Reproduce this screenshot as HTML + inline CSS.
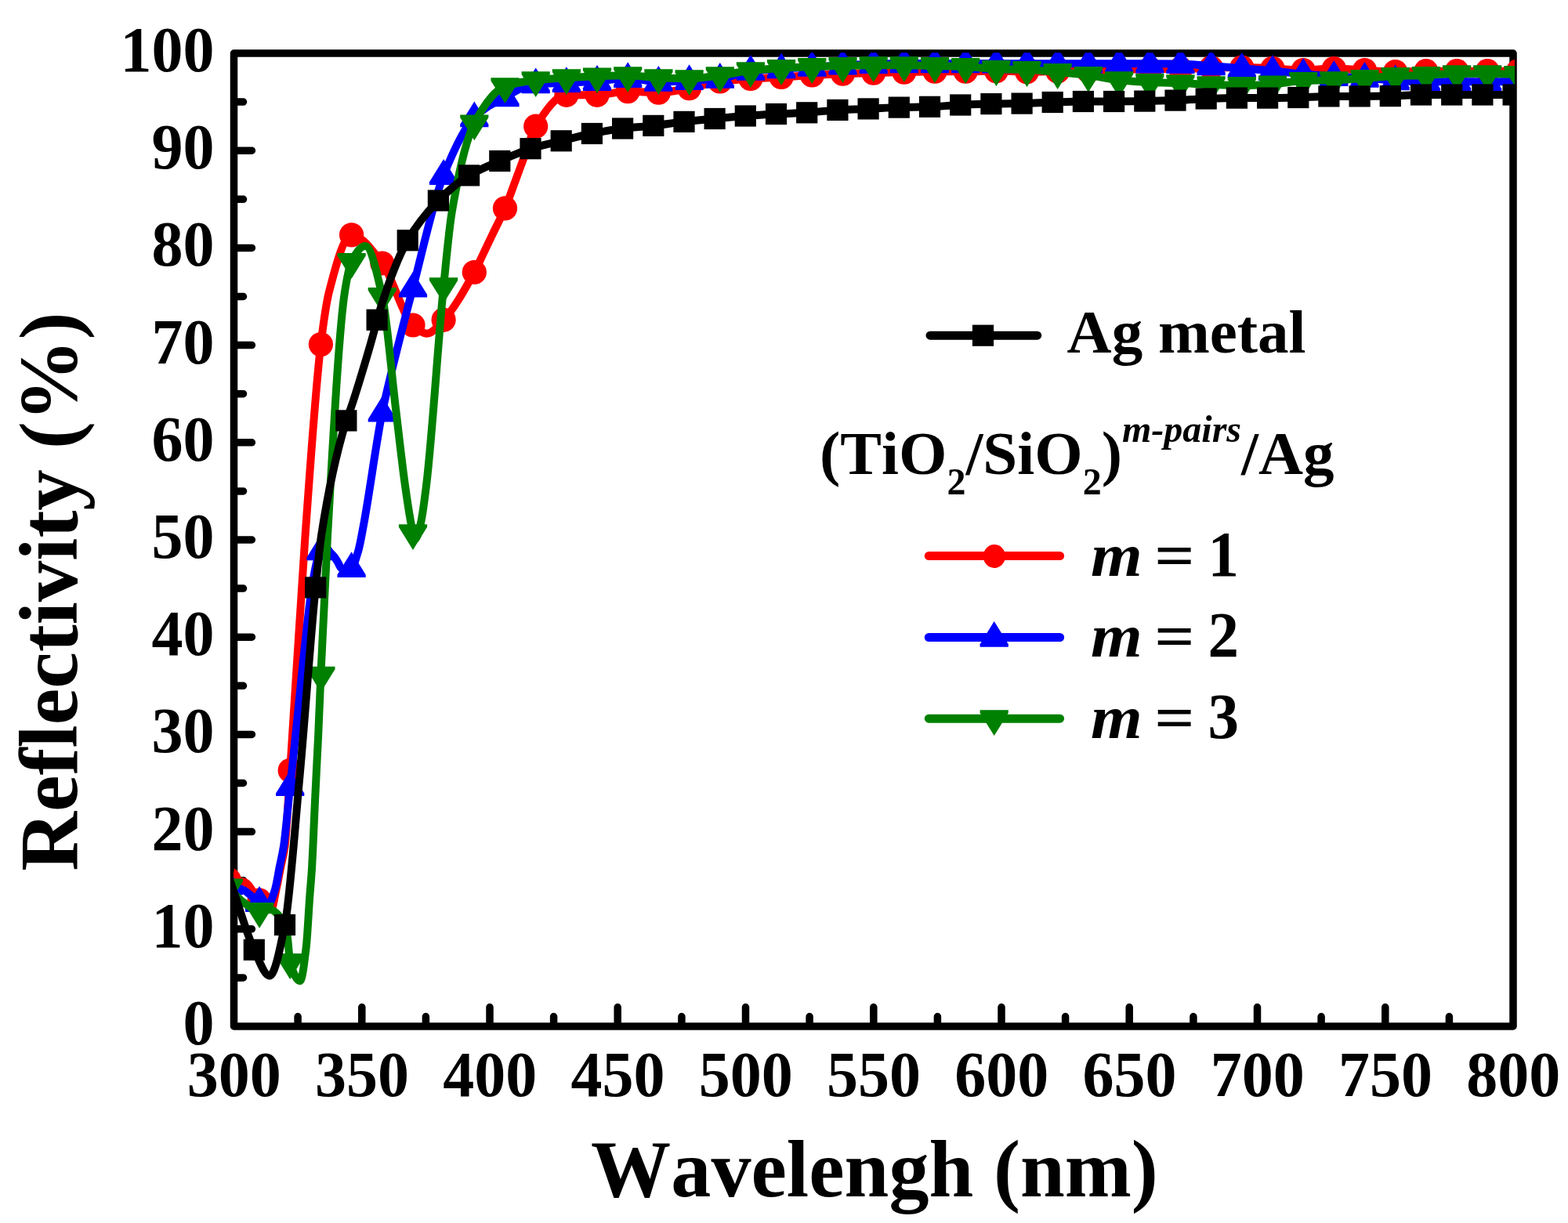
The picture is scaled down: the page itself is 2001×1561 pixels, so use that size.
<!DOCTYPE html>
<html lang="en"><head><meta charset="utf-8"><title>Reflectivity vs Wavelength</title>
<style>
html,body{margin:0;padding:0;background:#fff}
body{width:2001px;height:1561px;overflow:hidden}
svg{display:block}
text{font-family:"Liberation Serif","DejaVu Serif",serif;font-weight:bold;fill:#000;font-kerning:none}
.tk{font-size:80px}
.lg{font-size:79px}
.tt{font-size:102.2px}
.ty{font-size:104.9px}
.it{font-style:italic}
</style></head>
<body>
<svg width="2001" height="1561" viewBox="0 0 2001 1561">
<rect width="2001" height="1561" fill="#fff"/>
<defs><clipPath id="plotclip"><rect x="298" y="67.2" width="1635" height="1246"/></clipPath></defs>
<g id="axes" fill="none" stroke="#000" stroke-width="9.5" stroke-linejoin="round" stroke-linecap="round">
<rect x="298.5" y="68" width="1632.5" height="1242"/>
<path d="M299.5 1247.9H310.5M299.5 1185.8H321.4M299.5 1123.7H310.5M299.5 1061.6H321.4M299.5 999.5H310.5M299.5 937.4H321.4M299.5 875.3H310.5M299.5 813.2H321.4M299.5 751.1H310.5M299.5 689H321.4M299.5 626.9H310.5M299.5 564.8H321.4M299.5 502.7H310.5M299.5 440.6H321.4M299.5 378.5H310.5M299.5 316.4H321.4M299.5 254.3H310.5M299.5 192.2H321.4M299.5 130.1H310.5M380.1 1309V1297.6M461.8 1309V1285.6M543.4 1309V1297.6M625 1309V1285.6M706.6 1309V1297.6M788.2 1309V1285.6M869.9 1309V1297.6M951.5 1309V1285.6M1033.1 1309V1297.6M1114.8 1309V1285.6M1196.4 1309V1297.6M1278 1309V1285.6M1359.6 1309V1297.6M1441.2 1309V1285.6M1522.9 1309V1297.6M1604.5 1309V1285.6M1686.1 1309V1297.6M1767.8 1309V1285.6M1849.4 1309V1297.6"/>
</g>
<g id="data" clip-path="url(#plotclip)">
<g id="red" fill="#ff0000" stroke="none">
<path d="M291.9 1122.5C298.6 1122.5 305.3 1123.8 312 1125.7C318.4 1127.5 324.7 1143.1 331.1 1149.2C336 1153.9 341 1161 346 1161C348.2 1161 350.4 1144.6 352.6 1134.9C354.5 1126.3 356.5 1115.4 358.4 1105.7C360.1 1097.2 361.8 1092.6 363.5 1080.2C365.7 1064 368 1016.7 370.2 983.4C376.7 888 383.1 772.2 389.5 684C396.1 593 402.8 493.5 409.4 439.6C412.9 411 416.5 386 420 372.3C429.5 335.3 439.1 299.9 448.6 299.9C461.7 299.9 474.7 319.5 487.8 336C500.8 352.6 513.9 403.8 527 415C533 420.2 539 425.7 545 425.7C552 425.7 559.1 415.7 566.1 408.3C579.2 394.7 592.2 371.2 605.3 347.5C609.7 339.5 614.1 329.3 618.5 320.1C622.7 311.5 626.8 302.7 631 294C635.5 284.7 640 276.4 644.5 265.9C649 255.3 653.5 242 658 230C662.3 218.3 666.7 206.3 671 194.7C675.2 183.4 679.4 167.9 683.7 161.2C696.7 140.4 709.8 121.3 722.9 121.3C735.9 121.3 749 121.3 762 121.3C775.1 121.3 788.1 116.6 801.2 116.6C814.3 116.6 827.3 118.2 840.4 118.2C853.4 118.2 866.5 114.8 879.6 112.6C892.6 110.3 905.7 105.7 918.8 104C931.8 102.4 944.9 101.4 957.9 100.5C971 99.7 984 99.2 997.1 98.4C1010.2 97.7 1023.2 96.6 1036.3 95.9C1049.3 95.3 1062.4 94.7 1075.5 94.2C1088.5 93.8 1101.6 93.4 1114.7 93.1C1127.7 92.7 1140.8 92.4 1153.8 92.1C1166.9 91.8 1180 91.2 1193 91.2C1206.1 91.2 1219.1 91.2 1232.2 91.2C1245.2 91.2 1258.3 90.6 1271.4 90.6C1284.4 90.6 1297.5 91.6 1310.5 91.6C1323.6 91.6 1336.7 91.2 1349.7 91C1362.8 90.8 1375.8 90.6 1388.9 90.4C1402 90.1 1415 89.5 1428.1 89.1C1441.1 88.7 1454.2 87.9 1467.3 87.9C1480.3 87.9 1493.4 87.9 1506.5 87.9C1519.5 87.9 1532.6 86.9 1545.6 86.6C1558.7 86.4 1571.8 86 1584.8 86C1597.9 86 1610.9 86.7 1624 87.3C1637 87.8 1650.1 89.6 1663.2 89.6C1676.2 89.6 1689.3 87.5 1702.3 87.5C1715.4 87.5 1728.5 88.9 1741.5 89.6C1754.6 90.3 1767.7 91.6 1780.7 91.6C1793.8 91.6 1806.8 90.7 1819.9 90.7C1832.9 90.7 1846 90.7 1859.1 90.7C1872.1 90.7 1885.2 90.7 1898.2 90.7C1911.3 90.7 1924.4 90.7 1937.4 90.7" fill="none" stroke="#ff0000" stroke-width="10" stroke-linejoin="round" stroke-linecap="round"/>
<circle cx="291.9" cy="1122.5" r="15.6"/><circle cx="331.1" cy="1149.2" r="15.6"/><circle cx="370.2" cy="983.4" r="15.6"/><circle cx="409.4" cy="439.6" r="15.6"/><circle cx="448.6" cy="299.9" r="15.6"/><circle cx="487.8" cy="336" r="15.6"/><circle cx="527" cy="415" r="15.6"/><circle cx="566.1" cy="408.3" r="15.6"/><circle cx="605.3" cy="347.5" r="15.6"/><circle cx="644.5" cy="265.9" r="15.6"/><circle cx="683.7" cy="161.2" r="15.6"/><circle cx="722.9" cy="121.3" r="15.6"/><circle cx="762" cy="121.3" r="15.6"/><circle cx="801.2" cy="116.6" r="15.6"/><circle cx="840.4" cy="118.2" r="15.6"/><circle cx="879.6" cy="112.6" r="15.6"/><circle cx="918.8" cy="104" r="15.6"/><circle cx="957.9" cy="100.5" r="15.6"/><circle cx="997.1" cy="98.4" r="15.6"/><circle cx="1036.3" cy="95.9" r="15.6"/><circle cx="1075.5" cy="94.2" r="15.6"/><circle cx="1114.7" cy="93.1" r="15.6"/><circle cx="1153.8" cy="92.1" r="15.6"/><circle cx="1193" cy="91.2" r="15.6"/><circle cx="1232.2" cy="91.2" r="15.6"/><circle cx="1271.4" cy="90.6" r="15.6"/><circle cx="1310.5" cy="91.6" r="15.6"/><circle cx="1349.7" cy="91" r="15.6"/><circle cx="1388.9" cy="90.4" r="15.6"/><circle cx="1428.1" cy="89.1" r="15.6"/><circle cx="1467.3" cy="87.9" r="15.6"/><circle cx="1506.5" cy="87.9" r="15.6"/><circle cx="1545.6" cy="86.6" r="15.6"/><circle cx="1584.8" cy="86" r="15.6"/><circle cx="1624" cy="87.3" r="15.6"/><circle cx="1663.2" cy="89.6" r="15.6"/><circle cx="1702.3" cy="87.5" r="15.6"/><circle cx="1741.5" cy="89.6" r="15.6"/><circle cx="1780.7" cy="91.6" r="15.6"/><circle cx="1819.9" cy="90.7" r="15.6"/><circle cx="1859.1" cy="90.7" r="15.6"/><circle cx="1898.2" cy="90.7" r="15.6"/><circle cx="1937.4" cy="90.7" r="15.6"/>
</g>
<g id="blue" fill="#0000ff" stroke="none">
<path d="M291.9 1129.9C298.6 1130.7 305.3 1133.6 312 1136.7C318.4 1139.8 324.7 1149.1 331.1 1151.6C334.7 1153.1 338.4 1154.8 342 1154.8C345 1154.8 348.1 1144.4 351.1 1134.9C353 1128.8 355 1115.4 356.9 1105.7C358.6 1097.2 360.3 1091 362 1080.2C364.7 1062.8 367.5 1027.3 370.2 1003.7C383.3 891.6 396.4 715.5 409.4 703C411.6 700.9 413.8 698.9 416 698.9C417.9 698.9 419.7 703.3 421.6 705.4C423.4 707.4 425.2 708.8 427 711.1C428.6 713.2 430.2 716.2 431.8 718.9C432.9 720.8 434 724.3 435.1 725C437.1 726.2 439 727 441 727C443.5 727 446.1 726.1 448.6 724.8C451.4 723.3 454.3 713.1 457.1 703.7C459.4 696 461.7 682.2 464 670C471.9 628 479.8 565.7 487.8 526.3C491.2 509.4 494.6 495.8 498 481.6C507.7 441.2 517.3 404.1 527 367.3C540 317.6 553.1 256.1 566.1 223.6C579.2 191.2 592.2 162.8 605.3 150C618.4 137.1 631.4 130.8 644.5 123.9C657.6 117 670.6 107.6 683.7 106.9C696.7 106.2 709.8 106.2 722.9 105.8C735.9 105.3 749 104.6 762 103.6C775.1 102.7 788.1 99.7 801.2 99.7C814.3 99.7 827.3 104.5 840.4 104.5C853.4 104.5 866.5 103.3 879.6 102.7C892.6 102 905.7 101.7 918.8 100.5C931.8 99.4 944.9 91.7 957.9 90.4C971 89 984 88.7 997.1 87.9C1010.2 87 1023.2 86.1 1036.3 85.4C1049.3 84.6 1062.4 83.9 1075.5 83.3C1088.5 82.7 1101.6 82 1114.7 81.7C1127.7 81.4 1140.8 81 1153.8 81C1166.9 81 1180 81 1193 81C1206.1 81 1219.1 81 1232.2 81C1245.2 81 1258.3 81.3 1271.4 81.3C1284.4 81.3 1297.5 81.3 1310.5 81.3C1323.6 81.3 1336.7 81.3 1349.7 81.3C1362.8 81.3 1375.8 81.3 1388.9 81.3C1402 81.3 1415 81.3 1428.1 81.3C1441.1 81.3 1454.2 81.3 1467.3 81.3C1480.3 81.3 1493.4 81.4 1506.5 81.7C1519.5 81.9 1532.6 83 1545.6 83.9C1558.7 84.8 1571.8 86.2 1584.8 87.3C1597.9 88.3 1610.9 89.2 1624 90.4C1637 91.5 1650.1 93.4 1663.2 94.6C1676.2 95.7 1689.3 96.8 1702.3 97.6C1715.4 98.3 1728.5 98.6 1741.5 99.4C1754.6 100.2 1767.7 102.2 1780.7 102.9C1793.8 103.6 1806.8 104.5 1819.9 104.5C1832.9 104.5 1846 104 1859.1 104C1872.1 104 1885.2 104.5 1898.2 104.5C1911.3 104.5 1924.4 104.3 1937.4 104" fill="none" stroke="#0000ff" stroke-width="10" stroke-linejoin="round" stroke-linecap="round"/>
<path d="M291.9 1109.4L310 1138.6v3.6h-36.2v-3.6Z"/><path d="M331.1 1131.1L349.2 1160.3v3.6h-36.2v-3.6Z"/><path d="M370.2 983.2L388.3 1012.4v3.6h-36.2v-3.6Z"/><path d="M409.4 682.5L427.5 711.7v3.6h-36.2v-3.6Z"/><path d="M448.6 704.3L466.7 733.5v3.6h-36.2v-3.6Z"/><path d="M487.8 505.8L505.9 535v3.6h-36.2v-3.6Z"/><path d="M527 346.8L545.1 376v3.6h-36.2v-3.6Z"/><path d="M566.1 203.1L584.2 232.3v3.6h-36.2v-3.6Z"/><path d="M605.3 129.5L623.4 158.7v3.6h-36.2v-3.6Z"/><path d="M644.5 103.4L662.6 132.6v3.6h-36.2v-3.6Z"/><path d="M683.7 86.4L701.8 115.6v3.6h-36.2v-3.6Z"/><path d="M722.9 85.3L741 114.5v3.6h-36.2v-3.6Z"/><path d="M762 83.1L780.1 112.3v3.6h-36.2v-3.6Z"/><path d="M801.2 79.2L819.3 108.4v3.6h-36.2v-3.6Z"/><path d="M840.4 84L858.5 113.2v3.6h-36.2v-3.6Z"/><path d="M879.6 82.2L897.7 111.4v3.6h-36.2v-3.6Z"/><path d="M918.8 80L936.9 109.2v3.6h-36.2v-3.6Z"/><path d="M957.9 69.9L976 99.1v3.6h-36.2v-3.6Z"/><path d="M997.1 67.4L1015.2 96.6v3.6h-36.2v-3.6Z"/><path d="M1036.3 64.9L1054.4 94.1v3.6h-36.2v-3.6Z"/><path d="M1075.5 62.8L1093.6 92v3.6h-36.2v-3.6Z"/><path d="M1114.7 61.2L1132.8 90.4v3.6h-36.2v-3.6Z"/><path d="M1153.8 60.5L1171.9 89.7v3.6h-36.2v-3.6Z"/><path d="M1193 60.5L1211.1 89.7v3.6h-36.2v-3.6Z"/><path d="M1232.2 60.5L1250.3 89.7v3.6h-36.2v-3.6Z"/><path d="M1271.4 60.8L1289.5 90v3.6h-36.2v-3.6Z"/><path d="M1310.5 60.8L1328.6 90v3.6h-36.2v-3.6Z"/><path d="M1349.7 60.8L1367.8 90v3.6h-36.2v-3.6Z"/><path d="M1388.9 60.8L1407 90v3.6h-36.2v-3.6Z"/><path d="M1428.1 60.8L1446.2 90v3.6h-36.2v-3.6Z"/><path d="M1467.3 60.8L1485.4 90v3.6h-36.2v-3.6Z"/><path d="M1506.5 61.2L1524.5 90.4v3.6h-36.2v-3.6Z"/><path d="M1545.6 63.4L1563.7 92.6v3.6h-36.2v-3.6Z"/><path d="M1584.8 66.8L1602.9 96v3.6h-36.2v-3.6Z"/><path d="M1624 69.9L1642.1 99.1v3.6h-36.2v-3.6Z"/><path d="M1663.2 74.1L1681.3 103.3v3.6h-36.2v-3.6Z"/><path d="M1702.3 77.1L1720.4 106.3v3.6h-36.2v-3.6Z"/><path d="M1741.5 78.9L1759.6 108.1v3.6h-36.2v-3.6Z"/><path d="M1780.7 82.4L1798.8 111.6v3.6h-36.2v-3.6Z"/><path d="M1819.9 84L1838 113.2v3.6h-36.2v-3.6Z"/><path d="M1859.1 83.5L1877.2 112.7v3.6h-36.2v-3.6Z"/><path d="M1898.2 84L1916.3 113.2v3.6h-36.2v-3.6Z"/><path d="M1937.4 83.5L1955.5 112.7v3.6h-36.2v-3.6Z"/>
</g>
<g id="green" fill="#008000" stroke="none">
<path d="M291.9 1132.4C298.6 1140.8 305.3 1148 312 1152.6C318.4 1157.1 324.7 1162.8 331.1 1162.8C335.7 1162.8 340.4 1161 345 1161C348.3 1161 351.7 1164.3 355 1167.8C358.8 1171.8 362.7 1178.4 366.5 1194C367.7 1199 369 1223.6 370.2 1228C374.5 1243.1 378.7 1252 383 1252C385.6 1252 388.2 1230 390.8 1208.2C392.3 1195.5 393.8 1163.9 395.3 1143.6C396.2 1131.9 397 1123.7 397.9 1110C399.3 1087.9 400.7 1049.1 402.1 1020C403.4 992.6 404.7 968.6 406.1 940C407.2 915.7 408.3 886.4 409.4 861.6C412.3 798.3 415.1 733.5 418 684C425.3 557.3 432.7 418.7 440 372.3C442.9 354.2 445.7 339.4 448.6 333.8C454.4 322.5 460.2 313.9 466 313.9C473.3 313.9 480.5 345.7 487.8 377.8C493.5 403.1 499.3 473.8 505 521.3C509 554.4 513 591.5 517 619.9C519.5 637.8 522 654.2 524.5 667.9C525.3 672.4 526.1 677.3 527 680.1C528 683.5 529 687.8 530 687.8C532.3 687.8 534.6 677.1 536.9 667.9C539.2 658.3 541.6 639.3 544 619.9C551.4 560.1 558.8 438.3 566.1 365.2C569.7 330 573.2 290.6 576.8 269.9C586.3 214.7 595.8 175.5 605.3 157.4C618.4 132.6 631.4 114.8 644.5 110.2C657.6 105.6 670.6 103.6 683.7 102.2C696.7 100.7 709.8 99.9 722.9 99.2C735.9 98.4 749 97.8 762 97.3C775.1 96.8 788.1 96.2 801.2 96.2C814.3 96.2 827.3 98.7 840.4 99.2C853.4 99.7 866.5 100.2 879.6 100.2C892.6 100.2 905.7 97.8 918.8 96.2C931.8 94.6 944.9 91.5 957.9 90.1C971 88.7 984 87.8 997.1 87C1010.2 86.2 1023.2 85.5 1036.3 85C1049.3 84.6 1062.4 84.3 1075.5 84C1088.5 83.7 1101.6 83.2 1114.7 83.2C1127.7 83.2 1140.8 83.2 1153.8 83.2C1166.9 83.2 1180 83.7 1193 84C1206.1 84.3 1219.1 84.5 1232.2 85C1245.2 85.5 1258.3 87.5 1271.4 88C1284.4 88.5 1297.5 88.5 1310.5 89C1323.6 89.5 1336.7 90.8 1349.7 92C1362.8 93.1 1375.8 94.3 1388.9 95.9C1402 97.6 1415 100.9 1428.1 102.2C1441.1 103.5 1454.2 104.5 1467.3 105C1480.3 105.5 1493.4 105.7 1506.5 106.1C1519.5 106.6 1532.6 107.7 1545.6 108.1C1558.7 108.5 1571.8 109 1584.8 109C1597.9 109 1610.9 108.2 1624 107.4C1637 106.6 1650.1 103.3 1663.2 102.9C1676.2 102.5 1689.3 102.5 1702.3 102.2C1715.4 101.8 1728.5 100.9 1741.5 100C1754.6 99.2 1767.7 97.4 1780.7 96.9C1793.8 96.4 1806.8 96.4 1819.9 95.9C1832.9 95.5 1846 94.1 1859.1 94.1C1872.1 94.1 1885.2 94.1 1898.2 94.1C1911.3 94.1 1924.4 94.5 1937.4 95" fill="none" stroke="#008000" stroke-width="10" stroke-linejoin="round" stroke-linecap="round"/>
<path d="M291.9 1154.3L310 1125.1v-3.6h-36.2v3.6Z"/><path d="M331.1 1184.7L349.2 1155.5v-3.6h-36.2v3.6Z"/><path d="M370.2 1249.9L388.3 1220.7v-3.6h-36.2v3.6Z"/><path d="M409.4 883.5L427.5 854.3v-3.6h-36.2v3.6Z"/><path d="M448.6 355.7L466.7 326.5v-3.6h-36.2v3.6Z"/><path d="M487.8 399.7L505.9 370.5v-3.6h-36.2v3.6Z"/><path d="M527 702L545.1 672.8v-3.6h-36.2v3.6Z"/><path d="M566.1 387.1L584.2 357.9v-3.6h-36.2v3.6Z"/><path d="M605.3 179.3L623.4 150.1v-3.6h-36.2v3.6Z"/><path d="M644.5 132.1L662.6 102.9v-3.6h-36.2v3.6Z"/><path d="M683.7 124.1L701.8 94.9v-3.6h-36.2v3.6Z"/><path d="M722.9 121.1L741 91.9v-3.6h-36.2v3.6Z"/><path d="M762 119.2L780.1 90v-3.6h-36.2v3.6Z"/><path d="M801.2 118.1L819.3 88.9v-3.6h-36.2v3.6Z"/><path d="M840.4 121.1L858.5 91.9v-3.6h-36.2v3.6Z"/><path d="M879.6 122.1L897.7 92.9v-3.6h-36.2v3.6Z"/><path d="M918.8 118.1L936.9 88.9v-3.6h-36.2v3.6Z"/><path d="M957.9 112L976 82.8v-3.6h-36.2v3.6Z"/><path d="M997.1 108.9L1015.2 79.7v-3.6h-36.2v3.6Z"/><path d="M1036.3 106.9L1054.4 77.7v-3.6h-36.2v3.6Z"/><path d="M1075.5 105.9L1093.6 76.7v-3.6h-36.2v3.6Z"/><path d="M1114.7 105.1L1132.8 75.9v-3.6h-36.2v3.6Z"/><path d="M1153.8 105.1L1171.9 75.9v-3.6h-36.2v3.6Z"/><path d="M1193 105.9L1211.1 76.7v-3.6h-36.2v3.6Z"/><path d="M1232.2 106.9L1250.3 77.7v-3.6h-36.2v3.6Z"/><path d="M1271.4 109.9L1289.5 80.7v-3.6h-36.2v3.6Z"/><path d="M1310.5 110.9L1328.6 81.7v-3.6h-36.2v3.6Z"/><path d="M1349.7 113.9L1367.8 84.7v-3.6h-36.2v3.6Z"/><path d="M1388.9 117.8L1407 88.6v-3.6h-36.2v3.6Z"/><path d="M1428.1 124.1L1446.2 94.9v-3.6h-36.2v3.6Z"/><path d="M1467.3 126.9L1485.4 97.7v-3.6h-36.2v3.6Z"/><path d="M1506.5 128L1524.5 98.8v-3.6h-36.2v3.6Z"/><path d="M1545.6 130L1563.7 100.8v-3.6h-36.2v3.6Z"/><path d="M1584.8 130.9L1602.9 101.7v-3.6h-36.2v3.6Z"/><path d="M1624 129.3L1642.1 100.1v-3.6h-36.2v3.6Z"/><path d="M1663.2 124.8L1681.3 95.6v-3.6h-36.2v3.6Z"/><path d="M1702.3 124.1L1720.4 94.9v-3.6h-36.2v3.6Z"/><path d="M1741.5 121.9L1759.6 92.7v-3.6h-36.2v3.6Z"/><path d="M1780.7 118.8L1798.8 89.6v-3.6h-36.2v3.6Z"/><path d="M1819.9 117.8L1838 88.6v-3.6h-36.2v3.6Z"/><path d="M1859.1 116L1877.2 86.8v-3.6h-36.2v3.6Z"/><path d="M1898.2 116L1916.3 86.8v-3.6h-36.2v3.6Z"/><path d="M1937.4 116.9L1955.5 87.7v-3.6h-36.2v3.6Z"/>
</g>
<g id="black" fill="#000000" stroke="none">
<path d="M285.1 1098.9C289.6 1112.3 294 1125.6 298.5 1138.6C307.1 1163.7 315.7 1194.2 324.3 1212.3C330.9 1226 337.4 1245.4 344 1245.4C350.5 1245.4 357 1213.1 363.5 1180.5C369.7 1149.5 375.8 1062.6 382 995.8C388.9 921.1 395.8 818.9 402.7 749.9C405.1 725.4 407.6 700 410 684C420.6 614.5 431.2 571.4 441.9 536.9C443.9 530.2 446 526 448 520.1C453.9 503 459.7 483.6 465.6 463.9C469.6 450.6 473.6 437 477.6 422C478.8 417.6 479.9 412.1 481.1 408.3C494.1 364.9 507.2 329.4 520.2 306.8C533.3 284.3 546.4 269.2 559.4 256C572.5 242.9 585.6 231.7 598.6 223.9C611.7 216.1 624.8 211.1 637.8 205.5C650.9 199.8 663.9 193.8 677 189.7C690.1 185.7 703.1 183 716.2 179.8C729.3 176.6 742.3 173 755.4 170.5C768.5 167.9 781.5 165.5 794.6 164C807.6 162.5 820.7 161.8 833.8 160.4C846.8 159 859.9 156.9 873 155.4C886 154 899.1 152.7 912.1 151.5C925.2 150.2 938.3 149 951.3 148C964.4 147 977.5 146.2 990.5 145.5C1003.6 144.8 1016.7 144.5 1029.7 143.8C1042.8 143 1055.8 141.1 1068.9 140.4C1082 139.7 1095 139.5 1108.1 138.9C1121.2 138.4 1134.2 137.4 1147.3 137.1C1160.4 136.7 1173.4 136.7 1186.5 136.3C1199.5 135.9 1212.6 134.5 1225.7 134C1238.7 133.4 1251.8 132.8 1264.9 132.6C1277.9 132.3 1291 132.3 1304 132.1C1317.1 131.8 1330.2 130.9 1343.2 130.5C1356.3 130.1 1369.4 129.5 1382.4 129.5C1395.5 129.5 1408.6 129.5 1421.6 129.5C1434.7 129.5 1447.7 129.3 1460.8 129.1C1473.9 128.9 1486.9 128.6 1500 128.1C1513.1 127.7 1526.1 126.4 1539.2 126C1552.3 125.6 1565.3 125.1 1578.4 125.1C1591.4 125.1 1604.5 125.1 1617.6 125.1C1630.6 125.1 1643.7 124.8 1656.8 124.5C1669.8 124.2 1682.9 122.9 1695.9 122.9C1709 122.9 1722.1 122.9 1735.1 122.9C1748.2 122.9 1761.3 122.8 1774.3 122.6C1787.4 122.5 1800.5 121 1813.5 121C1826.6 121 1839.6 121 1852.7 121C1865.8 121 1878.8 121 1891.9 121C1905 121 1918 121 1931.1 121" fill="none" stroke="#000000" stroke-width="10" stroke-linejoin="round" stroke-linecap="round"/>
<rect x="271.5" y="1085.3" width="27.2" height="27.2"/><rect x="310.7" y="1198.7" width="27.2" height="27.2"/><rect x="349.9" y="1166.9" width="27.2" height="27.2"/><rect x="389.1" y="736.3" width="27.2" height="27.2"/><rect x="428.3" y="523.3" width="27.2" height="27.2"/><rect x="467.5" y="394.7" width="27.2" height="27.2"/><rect x="506.6" y="293.2" width="27.2" height="27.2"/><rect x="545.8" y="242.4" width="27.2" height="27.2"/><rect x="585" y="210.3" width="27.2" height="27.2"/><rect x="624.2" y="191.9" width="27.2" height="27.2"/><rect x="663.4" y="176.1" width="27.2" height="27.2"/><rect x="702.6" y="166.2" width="27.2" height="27.2"/><rect x="741.8" y="156.9" width="27.2" height="27.2"/><rect x="781" y="150.4" width="27.2" height="27.2"/><rect x="820.2" y="146.8" width="27.2" height="27.2"/><rect x="859.4" y="141.8" width="27.2" height="27.2"/><rect x="898.5" y="137.9" width="27.2" height="27.2"/><rect x="937.7" y="134.4" width="27.2" height="27.2"/><rect x="976.9" y="131.9" width="27.2" height="27.2"/><rect x="1016.1" y="130.2" width="27.2" height="27.2"/><rect x="1055.3" y="126.8" width="27.2" height="27.2"/><rect x="1094.5" y="125.3" width="27.2" height="27.2"/><rect x="1133.7" y="123.5" width="27.2" height="27.2"/><rect x="1172.9" y="122.7" width="27.2" height="27.2"/><rect x="1212.1" y="120.4" width="27.2" height="27.2"/><rect x="1251.3" y="119" width="27.2" height="27.2"/><rect x="1290.5" y="118.5" width="27.2" height="27.2"/><rect x="1329.6" y="116.9" width="27.2" height="27.2"/><rect x="1368.8" y="115.9" width="27.2" height="27.2"/><rect x="1408" y="115.9" width="27.2" height="27.2"/><rect x="1447.2" y="115.5" width="27.2" height="27.2"/><rect x="1486.4" y="114.5" width="27.2" height="27.2"/><rect x="1525.6" y="112.4" width="27.2" height="27.2"/><rect x="1564.8" y="111.5" width="27.2" height="27.2"/><rect x="1604" y="111.5" width="27.2" height="27.2"/><rect x="1643.2" y="110.9" width="27.2" height="27.2"/><rect x="1682.3" y="109.3" width="27.2" height="27.2"/><rect x="1721.5" y="109.3" width="27.2" height="27.2"/><rect x="1760.7" y="109" width="27.2" height="27.2"/><rect x="1799.9" y="107.4" width="27.2" height="27.2"/><rect x="1839.1" y="107.4" width="27.2" height="27.2"/><rect x="1878.3" y="107.4" width="27.2" height="27.2"/><rect x="1917.5" y="107.4" width="27.2" height="27.2"/>
</g>
</g>
<g id="ylabels" class="tk" text-anchor="end">
<text transform="translate(273.6 1332.9) scale(1 1.04)">0</text><text transform="translate(273.6 1208.7) scale(1 1.04)">10</text><text transform="translate(273.6 1084.5) scale(1 1.04)">20</text><text transform="translate(273.6 960.3) scale(1 1.04)">30</text><text transform="translate(273.6 836.1) scale(1 1.04)">40</text><text transform="translate(273.6 711.9) scale(1 1.04)">50</text><text transform="translate(273.6 587.7) scale(1 1.04)">60</text><text transform="translate(273.6 463.5) scale(1 1.04)">70</text><text transform="translate(273.6 339.3) scale(1 1.04)">80</text><text transform="translate(273.6 215.1) scale(1 1.04)">90</text><text transform="translate(273.6 90.9) scale(1 1.04)">100</text>
</g>
<g id="xlabels" class="tk" text-anchor="middle">
<text transform="translate(298.8 1399.2) scale(1 1.04)">300</text><text transform="translate(462.1 1399.2) scale(1 1.04)">350</text><text transform="translate(625.3 1399.2) scale(1 1.04)">400</text><text transform="translate(788.5 1399.2) scale(1 1.04)">450</text><text transform="translate(951.8 1399.2) scale(1 1.04)">500</text><text transform="translate(1115 1399.2) scale(1 1.04)">550</text><text transform="translate(1278.3 1399.2) scale(1 1.04)">600</text><text transform="translate(1441.5 1399.2) scale(1 1.04)">650</text><text transform="translate(1604.8 1399.2) scale(1 1.04)">700</text><text transform="translate(1768 1399.2) scale(1 1.04)">750</text><text transform="translate(1931.3 1399.2) scale(1 1.04)">800</text>
</g>
<text id="xtitle" class="tt" transform="translate(1116 1527) scale(1 1.015)" text-anchor="middle">Wavelengh (nm)</text>
<text id="ytitle" class="ty" transform="translate(98.2 755) rotate(-90)" text-anchor="middle">Reflectivity (%)</text>
<g id="legend">
<g stroke-width="11" stroke-linecap="round" fill="none"><path d="M1187 428.2H1323.7" stroke="#000"/><path d="M1185.3 709.5H1352.6" stroke="#f00"/><path d="M1185.3 813.5H1352.6" stroke="#00f"/><path d="M1185.3 917.2H1352.6" stroke="#008000"/></g>
<g fill="#000"><rect x="1240.9" y="414.6" width="27.2" height="27.2"/></g><g fill="#f00"><ellipse cx="1268.9" cy="710" rx="14.1" ry="15"/></g><g fill="#00f"><path d="M1268.7 793L1286.8 822.2v3.6h-36.2v-3.6Z"/></g><g fill="#008000"><path d="M1268.7 939.1L1286.8 909.9v-3.6h-36.2v3.6Z"/></g>
<text class="lg" x="1361.6" y="450.2">Ag metal</text>
<text class="lg" x="1046" y="605">(TiO<tspan font-size="48" dy="26">2</tspan><tspan dy="-26">/SiO</tspan><tspan font-size="48" dy="26">2</tspan><tspan dy="-26">)</tspan><tspan class="it" font-size="48" dy="-41">m-pairs</tspan><tspan dy="41">/Ag</tspan></text>
<text class="lg it" transform="translate(1392 735) scale(1.07 1)">m</text><text class="lg" transform="translate(1473.3 735) scale(1.14 1)">=</text><text class="lg" transform="translate(1541.5 735) scale(1 1.055)">1</text>
<text class="lg it" transform="translate(1392 838.4) scale(1.07 1)">m</text><text class="lg" transform="translate(1473.3 838.4) scale(1.14 1)">=</text><text class="lg" transform="translate(1541.5 838.4) scale(1 1.055)">2</text>
<text class="lg it" transform="translate(1392 942.4) scale(1.07 1)">m</text><text class="lg" transform="translate(1473.3 942.4) scale(1.14 1)">=</text><text class="lg" transform="translate(1541.5 942.4) scale(1 1.055)">3</text>
</g>
</svg>
</body></html>
